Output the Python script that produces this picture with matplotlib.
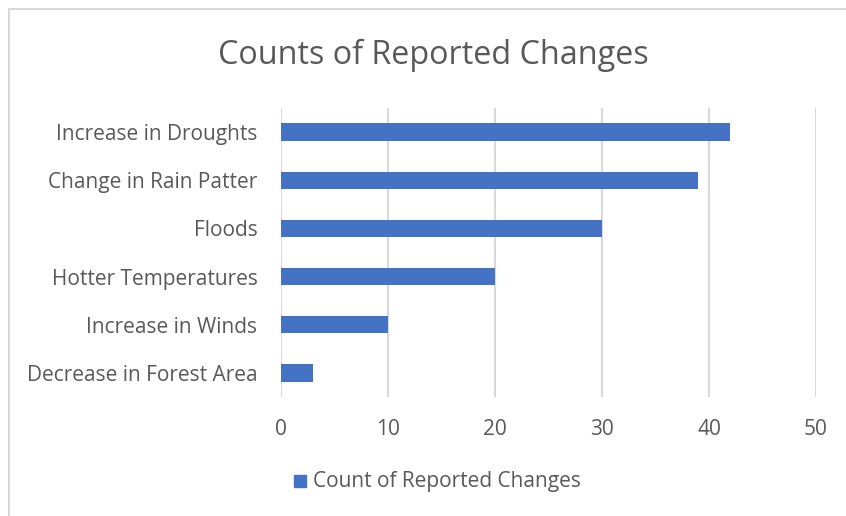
import matplotlib.pyplot as plt
from matplotlib.patches import Rectangle

# chart data
categories = ["Decrease in Forest Area", "Increase in Winds", "Hotter Temperatures",
              "Floods", "Change in Rain Patter", "Increase in Droughts"]
counts = [3, 10, 20, 30, 39, 42]
x_ticks = [0, 10, 20, 30, 40, 50]
series_name = "Count of Reported Changes"

bar_color = "#4472C4"
text_color = "#595959"
grid_color = "#D9D9D9"

plt.rcParams['font.family'] = ['Open Sans', 'DejaVu Sans']

fig = plt.figure(figsize=(8.46, 5.16), dpi=100)

# chart border (right and bottom edges fall outside the picture)
fig.patches.append(Rectangle((9 / 846, -0.1), 1.1, 1.1 - 9 / 516, transform=fig.transFigure,
                             fill=False, edgecolor="#D9D9D9", linewidth=1.5))

ax = fig.add_axes([281 / 846, 1 - 397 / 516, 535 / 846, 289 / 516])
ax.barh(range(len(categories)), counts, height=0.36, color=bar_color, zorder=3)

ax.set_xlim(0, 50)
ax.set_ylim(-0.5, len(categories) - 0.5)
ax.set_xticks(x_ticks)
ax.set_yticks(range(len(categories)))
ax.set_yticklabels(categories)
ax.tick_params(axis='both', length=0, labelsize=15, colors=text_color)
ax.tick_params(axis='x', pad=16)
ax.tick_params(axis='y', pad=17)
ax.grid(axis='x', color=grid_color, linewidth=1.5, zorder=0)
for s in ax.spines.values():
    s.set_visible(False)

fig.text(433 / 846, 1 - 64 / 516, "Counts of Reported Changes", ha='center', va='baseline',
         fontsize=23.3, color=text_color)

# legend
fig.patches.append(Rectangle((294 / 846, 1 - 487 / 516), 12 / 846, 12 / 516,
                             transform=fig.transFigure, color=bar_color))
fig.text(313 / 846, 1 - 481 / 516, series_name, ha='left', va='center',
         fontsize=15, color=text_color)

fig.savefig("out.png", dpi=100)
